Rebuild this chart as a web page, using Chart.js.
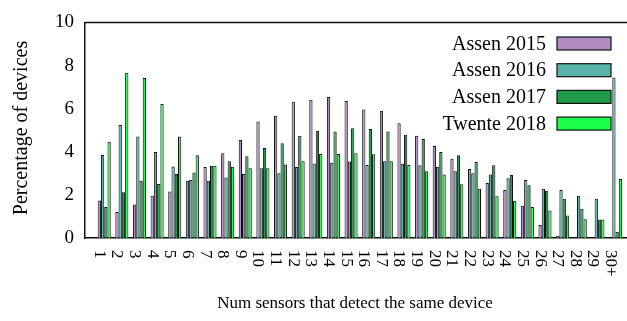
<!DOCTYPE html>
<html>
<head>
<meta charset="utf-8">
<script src="https://cdn.jsdelivr.net/npm/chart.js@4.4.1/dist/chart.umd.min.js"></script>
<style>
  html, body { margin: 0; padding: 0; background: #fff; overflow: hidden; }
  #grafico { display: block; }
</style>
</head>
<body>
<canvas id="grafico" width="627" height="321"></canvas>
<script>
// -------------------------
// Dados (percentual de dispositivos por nº de sensores)
// -------------------------
const categorias = [
  "1", "2", "3", "4", "5", "6", "7", "8", "9", "10",
  "11", "12", "13", "14", "15", "16", "17", "18", "19", "20",
  "21", "22", "23", "24", "25", "26", "27", "28", "29", "30+"
];

const assen2015 = [
  1.74, 1.21, 1.55, 1.96, 2.16, 2.65, 3.29, 3.93, 4.54, 5.40,
  5.67, 6.32, 6.41, 6.54, 6.36, 5.96, 5.90, 5.32, 4.74, 4.27,
  3.68, 3.20, 2.55, 2.23, 1.50, 0.60, 0.11, 0, 0, 0
];
const assen2016 = [
  3.85, 5.24, 4.71, 3.99, 3.32, 2.69, 2.66, 2.81, 2.97, 3.24,
  3.00, 3.29, 3.46, 3.49, 3.55, 3.39, 3.56, 3.44, 3.38, 3.30,
  3.10, 3.00, 2.94, 2.77, 2.69, 2.29, 2.23, 1.96, 1.82, 7.45
];
const assen2017 = [
  1.44, 2.12, 2.65, 2.51, 2.97, 3.04, 3.35, 3.56, 3.79, 4.17,
  4.39, 4.74, 4.98, 4.94, 5.09, 5.05, 4.94, 4.79, 4.59, 3.99,
  3.84, 3.53, 3.38, 2.92, 2.45, 2.19, 1.82, 1.36, 0.86, 0.29
];
const twente2018 = [
  4.46, 7.66, 7.42, 6.22, 4.71, 3.84, 3.35, 3.30, 3.23, 3.24,
  3.41, 3.56, 3.90, 3.90, 3.93, 3.88, 3.56, 3.39, 3.10, 2.94,
  2.49, 2.28, 1.94, 1.73, 1.44, 1.27, 1.04, 0.87, 0.86, 2.74
];

const nomesSeries = ["Assen 2015", "Assen 2016", "Assen 2017", "Twente 2018"];
const ticksY = [0, 2, 4, 6, 8, 10];

const cores = ["#af8dc3", "#5ab4ac", "#1f9a48", "#1cff48"];
const fonte = "'Liberation Serif', 'Times New Roman', serif";

// -------------------------
// Plugin: moldura, rótulos do eixo x, títulos e legenda
// -------------------------
const extras = {
  id: "extras",
  afterDraw(chart) {
    const ctx = chart.ctx;
    const area = chart.chartArea;
    const xs = chart.scales.x;

    ctx.save();

    // linha de cima da moldura
    ctx.strokeStyle = "#111";
    ctx.lineWidth = 1.5;
    ctx.beginPath();
    ctx.moveTo(area.left, area.top);
    ctx.lineTo(area.right, area.top);
    ctx.stroke();

    // rótulos do eixo x girados 90° (lidos de cima para baixo)
    ctx.fillStyle = "#000";
    ctx.font = "17px " + fonte;
    ctx.textAlign = "left";
    ctx.textBaseline = "middle";
    categorias.forEach((cat, i) => {
      const px = xs.getPixelForValue(i) - 5;
      ctx.save();
      ctx.translate(px, area.bottom + 12);
      ctx.rotate(Math.PI / 2);
      ctx.fillText(cat, 0, 0);
      ctx.restore();
    });

    // título do eixo x
    ctx.font = "17px " + fonte;
    ctx.textAlign = "center";
    ctx.fillText("Num sensors that detect the same device", 355, 304);

    // título do eixo y
    ctx.save();
    ctx.translate(22, 128);
    ctx.rotate(-Math.PI / 2);
    ctx.font = "20px " + fonte;
    ctx.fillText("Percentage of devices", 0, 0);
    ctx.restore();

    // legenda (texto à esquerda, caixa à direita)
    ctx.font = "20px " + fonte;
    ctx.textAlign = "right";
    nomesSeries.forEach((nome, i) => {
      const cy = 43.5 + i * 26.7;
      ctx.fillStyle = "#000";
      ctx.fillText(nome, 546, cy + 1);
      ctx.fillStyle = cores[i];
      ctx.fillRect(557, cy - 6.5, 54, 13);
      ctx.strokeStyle = "#111";
      ctx.lineWidth = 1.2;
      ctx.strokeRect(557, cy - 6.5, 54, 13);
    });

    ctx.restore();
  }
};

// -------------------------
// Gráfico
// -------------------------
const series = [assen2015, assen2016, assen2017, twente2018];

new Chart(document.getElementById("grafico").getContext("2d"), {
  type: "bar",
  data: {
    datasets: series.map((valores, s) => ({
      label: nomesSeries[s],
      data: valores.map((v, i) => ({ x: i, y: v })),
      backgroundColor: cores[s],
      borderColor: "#111",
      borderWidth: 1,
      categoryPercentage: 0.74,
      barPercentage: 1.0
    }))
  },
  options: {
    responsive: false,
    animation: false,
    devicePixelRatio: 1,
    layout: { padding: { top: 20, left: 0, right: 0, bottom: 0 } },
    plugins: {
      legend: { display: false },
      tooltip: { enabled: false }
    },
    scales: {
      x: {
        type: "linear",
        min: -1.09,
        max: 29.65,
        offset: false,
        grid: { display: false, drawTicks: false },
        border: { display: true, color: "#111", width: 1.5 },
        ticks: { display: false },
        afterFit(scale) { scale.height = 83; }
      },
      y: {
        min: 0,
        max: 10,
        afterBuildTicks(scale) {
          scale.ticks = ticksY.map(v => ({ value: v }));
        },
        grid: { display: false, drawTicks: false },
        border: { display: true, color: "#111", width: 1.5 },
        ticks: {
          color: "#000",
          padding: 11,
          font: { family: fonte, size: 19 }
        },
        afterFit(scale) { scale.width = 85; }
      }
    }
  },
  plugins: [extras]
});
</script>
</body>
</html>
